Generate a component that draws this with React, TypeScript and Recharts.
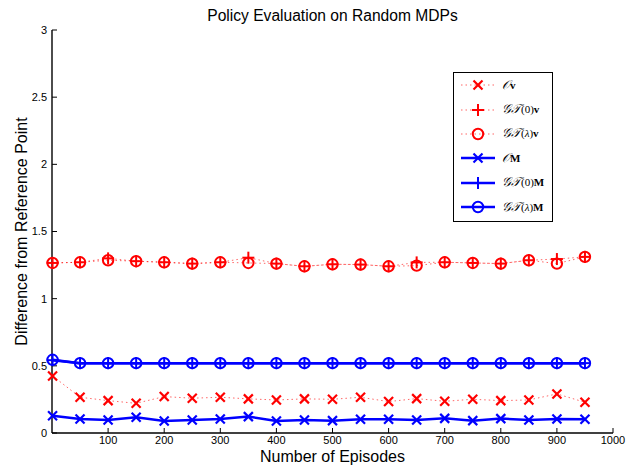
import { LineChart, Line, XAxis, YAxis, Legend } from "recharts";

// episodes at which each method was evaluated
const episodes = [1, 50, 100, 150, 200, 250, 300, 350, 400, 450, 500, 550, 600, 650, 700, 750, 800, 850, 900, 950];

// vector-based (red, dotted)
const ovValues = [0.425, 0.266, 0.241, 0.221, 0.271, 0.259, 0.266, 0.254, 0.246, 0.254, 0.251, 0.266, 0.234, 0.256, 0.236, 0.251, 0.241, 0.246, 0.291, 0.229];
const gt0vValues = [1.266, 1.271, 1.3, 1.279, 1.271, 1.261, 1.271, 1.305, 1.261, 1.241, 1.256, 1.254, 1.241, 1.27, 1.271, 1.266, 1.261, 1.286, 1.295, 1.311];
const gtLvValues = [1.266, 1.271, 1.286, 1.279, 1.271, 1.261, 1.271, 1.266, 1.261, 1.241, 1.256, 1.254, 1.241, 1.246, 1.271, 1.266, 1.261, 1.286, 1.261, 1.311];

// matrix-based (blue, solid)
const omValues = [0.129, 0.104, 0.097, 0.117, 0.09, 0.097, 0.104, 0.122, 0.09, 0.097, 0.092, 0.102, 0.102, 0.097, 0.109, 0.092, 0.107, 0.097, 0.104, 0.102];
const gt0MValues = [0.542, 0.52, 0.52, 0.52, 0.52, 0.52, 0.52, 0.52, 0.52, 0.52, 0.52, 0.52, 0.52, 0.52, 0.52, 0.52, 0.52, 0.52, 0.52, 0.52];
const gtLMValues = [0.545, 0.52, 0.52, 0.52, 0.52, 0.52, 0.52, 0.52, 0.52, 0.52, 0.52, 0.52, 0.52, 0.52, 0.52, 0.52, 0.52, 0.52, 0.52, 0.52];

const xTicks = [100, 200, 300, 400, 500, 600, 700, 800, 900, 1000];
const yTicks = [0, 0.5, 1, 1.5, 2, 2.5, 3];

const RED = "#ff0000";
const BLUE = "#0000ff";
const FONT = "'Liberation Sans', Arial, Helvetica, sans-serif";
const SERIF = "'Liberation Serif', 'DejaVu Serif', serif";

type Shape = "x" | "plus" | "o";

// calligraphic letters, sized up a bit since the fallback glyphs come out small
const Cal = ({ t }: { t: string }) => <span style={{ fontSize: 12.5, fontStyle: "italic" }}>{t}</span>;

const SERIES: { key: string; label: JSX.Element; color: string; shape: Shape; dotted: boolean }[] = [
  { key: "ov", label: <><Cal t="𝒪" /><b>v</b></>, color: RED, shape: "x", dotted: true },
  { key: "gt0v", label: <><Cal t="𝒢𝒯" />(0)<b>v</b></>, color: RED, shape: "plus", dotted: true },
  { key: "gtLv", label: <><Cal t="𝒢𝒯" />(<i>λ</i>)<b>v</b></>, color: RED, shape: "o", dotted: true },
  { key: "om", label: <><Cal t="𝒪" /><b>M</b></>, color: BLUE, shape: "x", dotted: false },
  { key: "gt0M", label: <><Cal t="𝒢𝒯" />(0)<b>M</b></>, color: BLUE, shape: "plus", dotted: false },
  { key: "gtLM", label: <><Cal t="𝒢𝒯" />(<i>λ</i>)<b>M</b></>, color: BLUE, shape: "o", dotted: false },
];

const data = episodes.map((ep, i) => ({
  ep,
  ov: ovValues[i],
  gt0v: gt0vValues[i],
  gtLv: gtLvValues[i],
  om: omValues[i],
  gt0M: gt0MValues[i],
  gtLM: gtLMValues[i],
}));

function Marker({ cx, cy, shape, color }: { cx: number; cy: number; shape: Shape; color: string }) {
  if (shape === "x") {
    const s = 4.5;
    return (
      <g stroke={color} strokeWidth={2.2} fill="none">
        <line x1={cx - s} y1={cy - s} x2={cx + s} y2={cy + s} />
        <line x1={cx - s} y1={cy + s} x2={cx + s} y2={cy - s} />
      </g>
    );
  }
  if (shape === "plus") {
    const s = 6;
    return (
      <g stroke={color} strokeWidth={2} fill="none">
        <line x1={cx - s} y1={cy} x2={cx + s} y2={cy} />
        <line x1={cx} y1={cy - s} x2={cx} y2={cy + s} />
      </g>
    );
  }
  return <circle cx={cx} cy={cy} r={5.2} stroke={color} strokeWidth={2} fill="none" />;
}

function LegendBox() {
  return (
    <div
      style={{
        width: 100,
        height: 150,
        border: "1px solid #000",
        background: "#fff",
        boxSizing: "border-box",
        paddingTop: 0,
        fontFamily: SERIF,
        fontSize: 11,
        color: "#000",
      }}
    >
      {SERIES.map((s) => (
        <div key={s.key} style={{ height: 24.4, display: "flex", alignItems: "center" }}>
          <svg width={44} height={16} style={{ marginLeft: 4 }}>
            <line
              x1={3}
              y1={8}
              x2={37}
              y2={8}
              stroke={s.color}
              strokeWidth={s.dotted ? 1 : 2.5}
              strokeDasharray={s.dotted ? "1.5 3" : undefined}
              strokeOpacity={s.dotted ? 0.6 : 1}
            />
            <Marker cx={20} cy={8} shape={s.shape} color={s.color} />
          </svg>
          <span style={{ whiteSpace: "nowrap" }}>{s.label}</span>
        </div>
      ))}
    </div>
  );
}

const tickStyle = { fontSize: 11, fill: "#000", fontFamily: FONT };
const axisLine = { stroke: "#000", strokeWidth: 1.4 };

export default function App() {
  return (
    <div style={{ position: "absolute", left: 0, top: 0, width: 634, height: 465, background: "#fff" }}>
      <div
        style={{
          position: "absolute",
          left: 52,
          width: 561,
          top: 7,
          lineHeight: 1.117,
          textAlign: "center",
          fontFamily: FONT,
          fontSize: 15.6,
          color: "#000",
        }}
      >
        Policy Evaluation on Random MDPs
      </div>
      <LineChart width={634} height={465} data={data} margin={{ top: 30, right: 21, bottom: 0, left: 0 }}>
        <XAxis
          dataKey="ep"
          type="number"
          domain={[0, 1000]}
          ticks={xTicks}
          tickSize={-5}
          tickMargin={8}
          height={32}
          axisLine={axisLine}
          tickLine={{ stroke: "#000" }}
          tick={tickStyle}
          label={(props: any) => {
            const vb = props.viewBox;
            return (
              <text x={vb.x + vb.width / 2} y={461.5} textAnchor="middle" fontFamily={FONT} fontSize={16} fill="#000">
                Number of Episodes
              </text>
            );
          }}
        />
        <XAxis
          xAxisId="top"
          dataKey="ep"
          type="number"
          orientation="top"
          domain={[0, 1000]}
          ticks={xTicks}
          tickSize={-5}
          height={0}
          axisLine={axisLine}
          tickLine={{ stroke: "#000" }}
          tickFormatter={() => ""}
        />
        <YAxis
          domain={[0, 3]}
          ticks={yTicks}
          tickSize={-5}
          tickMargin={10}
          width={52}
          axisLine={axisLine}
          tickLine={{ stroke: "#000" }}
          tick={tickStyle}
          label={(props: any) => {
            const vb = props.viewBox;
            const cy = vb.y + vb.height / 2;
            return (
              <text
                x={26.5}
                y={cy}
                transform={`rotate(-90, 26.5, ${cy})`}
                textAnchor="middle"
                fontFamily={FONT}
                fontSize={16}
                fill="#000"
              >
                Difference from Reference Point
              </text>
            );
          }}
        />
        <YAxis
          yAxisId="right"
          orientation="right"
          domain={[0, 3]}
          ticks={yTicks}
          tickSize={-5}
          width={0}
          axisLine={axisLine}
          tickLine={{ stroke: "#000" }}
          tickFormatter={() => ""}
        />
        <Legend
          layout="horizontal"
          verticalAlign="middle"
          align="center"
          content={() => <LegendBox />}
          wrapperStyle={{ left: 453, top: 72, width: 100, height: 150 }}
        />
        {SERIES.map((s) => (
          <Line
            key={s.key}
            dataKey={s.key}
            stroke={s.color}
            strokeWidth={s.dotted ? 1 : 2.5}
            strokeDasharray={s.dotted ? "1.5 3" : undefined}
            strokeOpacity={s.dotted ? 0.6 : 1}
            isAnimationActive={false}
            legendType="none"
            dot={(p: any) => <Marker key={`${s.key}-${p.index}`} cx={p.cx} cy={p.cy} shape={s.shape} color={s.color} />}
            activeDot={false}
          />
        ))}
      </LineChart>
    </div>
  );
}
